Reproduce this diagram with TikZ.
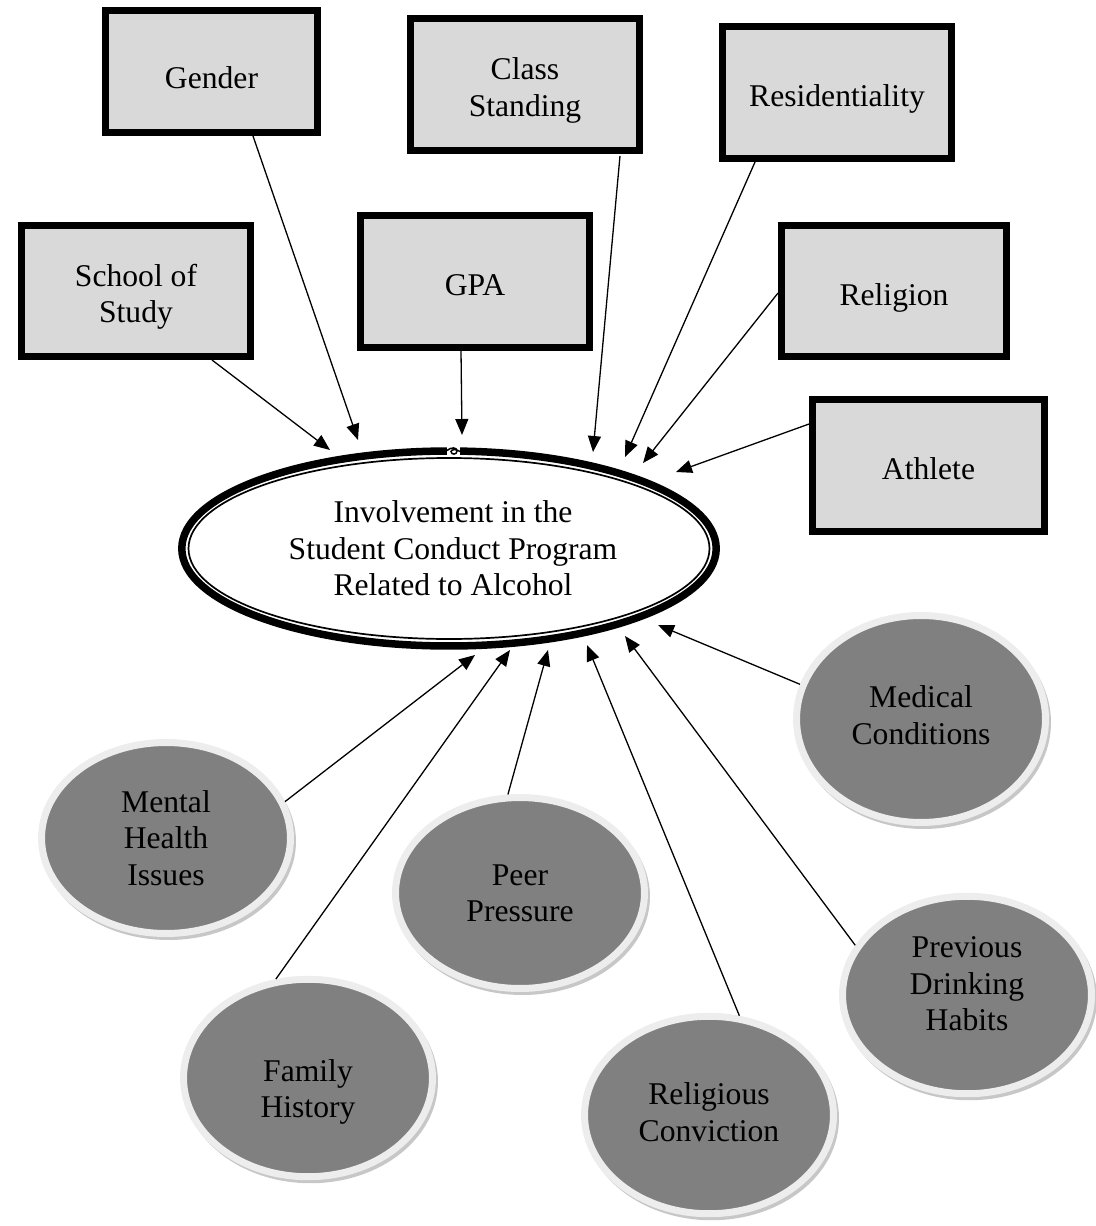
\documentclass[tikz,border=0pt]{standalone}
\usepackage{fontspec}
\setmainfont{Liberation Serif}
\usetikzlibrary{arrows.meta,shapes.geometric,shadows}
\begin{document}
\begin{tikzpicture}[x=0.02cm,y=-0.02cm,
  lbl/.style={font=\fontsize{18}{20.7}\selectfont, align=center, text=black, inner sep=0pt},
  box/.style={rectangle, draw=black, line width=0.14cm, fill=black!15, inner sep=0pt},
  oval/.style={ellipse, draw=black!7, line width=0.14cm, fill=black!50, inner sep=0pt,
     minimum width=4.98cm, minimum height=3.95cm,
     general shadow={fill=black!22, draw=black!22, line width=0.12cm, shadow xshift=0.05cm, shadow yshift=-0.07cm}},
  arr/.style={-{Triangle[length=0.32cm,width=0.26cm]}, line width=0.026cm, black}
]
\useasboundingbox (0,0) rectangle (1095,1226);

% central ellipse
\node[ellipse, draw=black, line width=0.15cm, minimum width=10.69cm, minimum height=3.9cm, inner sep=0pt,
  label={[lbl, xshift=0.08cm]center:{Involvement in the\\Student Conduct Program\\Related to Alcohol}}]
  (main) at (449,548.5) {};
\draw[black, line width=0.034cm] (main.center) ellipse [x radius=260.5, y radius=90.5];
% small knot at the top of the ring
\fill[white] (447,443) rectangle (460,456);
\draw[black, line width=0.03cm] (447,450.5) .. controls (451,447) and (457,447) .. (457,451)
  .. controls (457,455) and (451,455) .. (451,451.5) .. controls (452,449) and (456,449) .. (460,451.5);

% boxes
\node[box, minimum width=4.26cm, minimum height=2.44cm,
  label={[lbl, yshift=-0.13cm]center:Gender}] (gender) at (211.5,71.5) {};
\node[box, minimum width=4.58cm, minimum height=2.64cm,
  label={[lbl, yshift=-0.12cm]center:{Class\\Standing}}] (class) at (525,84.5) {};
\node[box, minimum width=4.58cm, minimum height=2.64cm,
  label={[lbl, yshift=-0.13cm]center:Residentiality}] (resid) at (837,92.5) {};
\node[box, minimum width=4.58cm, minimum height=2.62cm,
  label={[lbl, yshift=-0.12cm]center:{School of\\Study}}] (school) at (136,291) {};
\node[box, minimum width=4.58cm, minimum height=2.64cm,
  label={[lbl, yshift=-0.08cm]center:GPA}] (gpa) at (475,281.5) {};
\node[box, minimum width=4.50cm, minimum height=2.62cm,
  label={[lbl, yshift=-0.13cm]center:Religion}] (religion) at (894,291) {};
\node[box, minimum width=4.64cm, minimum height=2.64cm,
  label={[lbl, yshift=-0.07cm]center:Athlete}] (athlete) at (928.5,465.5) {};

% ovals
\node[oval, minimum height=4.14cm,
  label={[lbl, yshift=0.08cm]center:{Medical\\Conditions}}] (medical) at (921,719) {};
\node[oval, minimum height=3.82cm,
  label={[lbl]center:{Mental\\Health\\Issues}}] (mental) at (166,838) {};
\node[oval, minimum height=3.82cm,
  label={[lbl]center:{Peer\\Pressure}}] (peer) at (520,893) {};
\node[oval,
  label={[lbl, yshift=0.22cm]center:{Previous\\Drinking\\Habits}}] (previous) at (967,995) {};
\node[oval,
  label={[lbl, yshift=-0.28cm]center:{Family\\History}}] (family) at (308,1078) {};
\node[oval,
  label={[lbl, yshift=0.06cm]center:{Religious\\Conviction}}] (religious) at (709,1115) {};

% arrow targets
\coordinate (tSchool) at (330,450);
\coordinate (tGender) at (358,440);
\coordinate (tGpa) at (462,435);
\coordinate (tClass) at (593,452);
\coordinate (tResid) at (625,457);
\coordinate (tReligion) at (643,463);
\coordinate (tAthlete) at (676,472);
\coordinate (tMedical) at (658,625);
\coordinate (tPrevious) at (625,636);
\coordinate (tReligious) at (587,645);
\coordinate (tPeer) at (548,650);
\coordinate (tFamily) at (510,650);
\coordinate (tMental) at (475,655);

% arrows
\draw[arr] ([xshift=1.52cm]school.south) -- (tSchool);
\draw[arr] ([xshift=0.83cm]gender.south) -- (tGender);
\draw[arr] ([xshift=-0.28cm]gpa.south) -- (tGpa);
\draw[arr] ([xshift=1.9cm,yshift=-0.04cm]class.south) -- (tClass);
\draw[arr] ([xshift=-1.64cm]resid.south) -- (tResid);
\draw[arr] ([yshift=-0.04cm]religion.west) -- (tReligion);
\draw[arr] ([yshift=0.83cm]athlete.west) -- (tAthlete);
\draw[arr] (medical.164.7) -- (tMedical);
\draw[arr] (previous.156.1) -- (tPrevious);
\draw[arr] (religious.73.9) -- (tReligious);
\draw[arr] (peer.97.7) -- (tPeer);
\draw[arr] (family.108.4) -- (tFamily);
\draw[arr] (mental.17.3) -- (tMental);
\end{tikzpicture}
\end{document}
